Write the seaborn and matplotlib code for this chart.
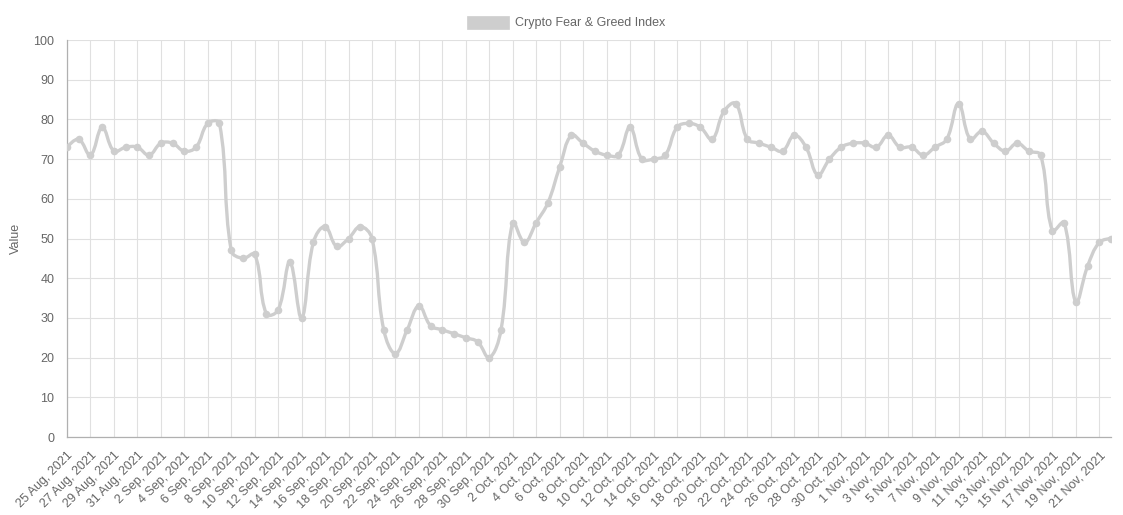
import numpy as np
import pandas as pd
import matplotlib
matplotlib.use("Agg")
import matplotlib.pyplot as plt
import seaborn as sns
from matplotlib.path import Path
from matplotlib.patches import PathPatch, Rectangle

# ---- data ----
dates = pd.date_range("2021-08-25", "2021-11-22", freq="D")
values = [
    # Aug 25-31
    73, 75, 71, 78, 72, 73, 73,
    # Sep 1-30
    71, 74, 74, 72, 73, 79, 79, 47, 45, 46, 31, 32, 44, 30, 49,
    53, 48, 50, 53, 50, 27, 21, 27, 33, 28, 27, 26, 25, 24, 20,
    # Oct 1-31
    27, 54, 49, 54, 59, 68, 76, 74, 72, 71, 71, 78, 70, 70, 71, 78,
    79, 78, 75, 82, 84, 75, 74, 73, 72, 76, 73, 66, 70, 73, 74,
    # Nov 1-22
    74, 73, 76, 73, 73, 71, 73, 75, 84, 75, 77, 74, 72, 74, 72, 71,
    52, 54, 34, 43, 49, 50,
]
labels = [f"{d.day} {d.strftime('%b')}, {d.year}" for d in dates]
series_name = "Crypto Fear & Greed Index"
y_ticks = [0, 10, 20, 30, 40, 50, 60, 70, 80, 90, 100]

df = pd.DataFrame({"idx": np.arange(len(values)), "value": values, "label": labels})

# ---- style ----
sns.set_theme(style="white")
plt.rcParams["font.family"] = ["Liberation Sans", "DejaVu Sans"]

W, H, DPI = 1123, 515, 100
fig = plt.figure(figsize=(W / DPI, H / DPI), dpi=DPI)
L, R, T, B = 67, 1111, 40, 437
ax = fig.add_axes([L / W, (H - B) / H, (R - L) / W, (B - T) / H])

LINE = "#cecece"
TXT = "#666666"
GRID = "#e0e0e0"
ZERO = "#b0b0b0"

n = len(values)
ax.set_xlim(0, n - 1)
ax.set_ylim(0, 100)

# smooth curve (Chart.js style tension spline) in data coordinates
sx = (R - L) / (n - 1)
sy = (B - T) / 100.0
px = df["idx"].to_numpy(float) * sx
py = df["value"].to_numpy(float) * sy
tension = 0.4
verts = [(df["idx"][0], df["value"][0])]
codes = [Path.MOVETO]
cp_prev = [None] * n
cp_next = [None] * n
for i in range(n):
    if i == 0 or i == n - 1:
        cp_prev[i] = (px[i], py[i])
        cp_next[i] = (px[i], py[i])
        continue
    d01 = np.hypot(px[i] - px[i - 1], py[i] - py[i - 1])
    d12 = np.hypot(px[i + 1] - px[i], py[i + 1] - py[i])
    s01 = d01 / (d01 + d12) if d01 + d12 else 0
    s12 = d12 / (d01 + d12) if d01 + d12 else 0
    fa, fb = tension * s01, tension * s12
    dx, dy = px[i + 1] - px[i - 1], py[i + 1] - py[i - 1]
    cp_prev[i] = (px[i] - fa * dx, min(max(py[i] - fa * dy, 0), 100 * sy))
    cp_next[i] = (px[i] + fb * dx, min(max(py[i] + fb * dy, 0), 100 * sy))
for i in range(1, n):
    c1 = cp_next[i - 1]
    c2 = cp_prev[i]
    verts += [(c1[0] / sx, c1[1] / sy), (c2[0] / sx, c2[1] / sy), (df["idx"][i], df["value"][i])]
    codes += [Path.CURVE4, Path.CURVE4, Path.CURVE4]
ax.add_patch(PathPatch(Path(verts, codes), facecolor="none", edgecolor=LINE,
                       linewidth=2.4, zorder=3, capstyle="round", joinstyle="round"))

sns.scatterplot(data=df, x="idx", y="value", ax=ax, color=LINE, s=30,
                linewidth=0, zorder=4, legend=False)

# axes & grid
ax.set_xticks(df["idx"][::2])
ax.set_xticklabels(df["label"][::2], rotation=45, ha="right", rotation_mode="anchor")
ax.set_yticks(y_ticks)
ax.set_yticklabels([str(v) for v in y_ticks])
ax.grid(True, color=GRID, linewidth=0.8, alpha=1.0)
ax.set_axisbelow(True)
ax.tick_params(axis="both", labelcolor=TXT, color=GRID, labelsize=9,
               length=6, width=0.8, pad=3)
for s in ["top", "right"]:
    ax.spines[s].set_visible(False)
for s in ["left", "bottom"]:
    ax.spines[s].set_color(ZERO)
    ax.spines[s].set_linewidth(0.9)
ax.set_xlabel("")
ax.set_ylabel("Value", color=TXT, fontsize=9, labelpad=8)

# legend at top
fig.add_artist(Rectangle((467 / W, (H - 29) / H), 42 / W, 13 / H,
                         transform=fig.transFigure, facecolor=LINE,
                         edgecolor=LINE, linewidth=0.5))
fig.text(515 / W, (H - 23) / H, series_name, color=TXT, fontsize=9,
         ha="left", va="center")

fig.savefig("out.png", dpi=DPI)
